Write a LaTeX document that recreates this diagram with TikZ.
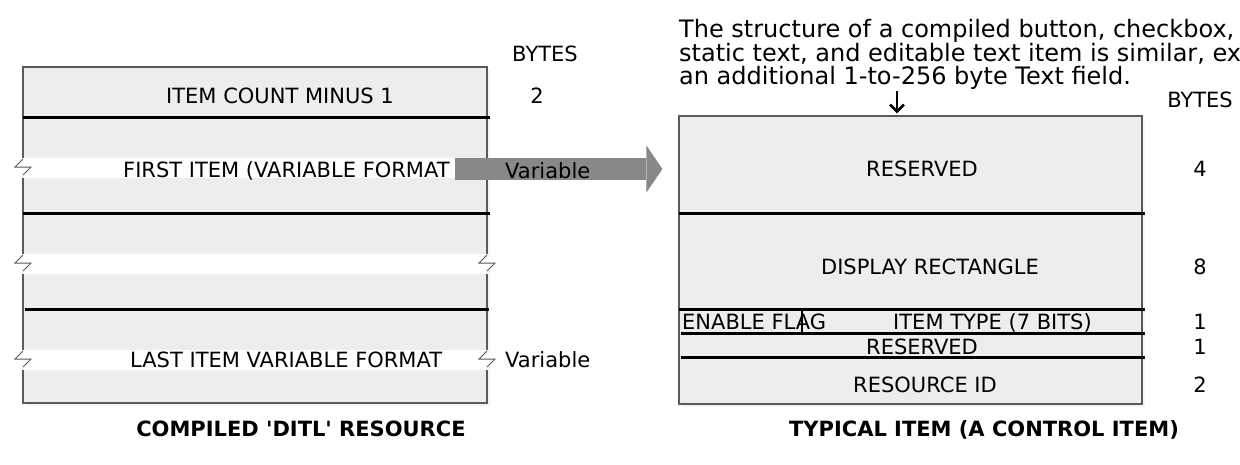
\documentclass[tikz,border=0pt]{standalone}
\usepackage{fontspec}
\setmainfont{DejaVu Sans}
\usetikzlibrary{positioning,arrows.meta}
\definecolor{boxgray}{HTML}{EDEDED}
\definecolor{edgegray}{HTML}{5A5A5A}
\definecolor{arrgray}{HTML}{888888}
\definecolor{shadegray}{HTML}{F4F4F4}
\tikzset{recbox/.style={draw=edgegray, line width=1.2pt, fill=boxgray, inner sep=0pt}}
\tikzset{sepline/.style={draw, line width=3pt}}
\tikzset{band/.style={fill=white}}
\tikzset{brk/.style={draw=edgegray, line width=1pt, line join=miter}}
\tikzset{lbl/.style={inner sep=0pt, anchor=base, font=\fontsize{21pt}{25pt}\selectfont}}
\tikzset{lblw/.style={lbl, anchor=base west}}
\tikzset{caption/.style={lbl, font=\fontsize{21pt}{25pt}\selectfont\bfseries}}
\tikzset{note/.style={lblw, font=\fontsize{24pt}{24pt}\selectfont}}
\tikzset{bigarr/.style={draw=arrgray, line width=22pt, -{Triangle[width=47pt,length=16pt,line width=0pt]}}}
\tikzset{downarr/.style={draw, line width=2.6pt, -{Straight Barb[length=7pt,width=14pt]}}}
\newcommand\brkmark[2]{\draw[brk] (#1,#2+1) -- (#1-8,#2+9) -- (#1+8,#2+9) -- (#1,#2+17);}
\begin{document}
\begin{tikzpicture}[x=1pt, y=-1pt]
\useasboundingbox (0,0) rectangle (1240,464);
% shadows
\fill[shadegray] (26,70) rectangle (490,406);
\fill[shadegray] (682,119) rectangle (1145,407);
% the two records
\node[recbox, minimum width=464pt, minimum height=336pt] (ditl) at (255,235) {};
\node[recbox, minimum width=463pt, minimum height=288pt] (item) at (910.5,260) {};

\foreach \y in {117,213} \draw[sepline] (23,\y) -- (490,\y);
\draw[sepline] (25,309) -- (489,309);
\foreach \y in {213,309} \draw[sepline] (679,\y) -- (1145,\y);
\foreach \y in {333,357} \draw[sepline] (681,\y) -- (1145,\y);

% break marks
\fill[band] (21,158) rectangle (455,178);
\fill[band] (21,254) rectangle (489,274);
\fill[band] (21,350) rectangle (489,370);
\brkmark{23}{158} \brkmark{23}{254} \brkmark{487}{254}
\brkmark{23}{350} \brkmark{487}{350}

\node[lbl] (bytesl) at (545,61) {BYTES};
\node[lbl] (countrow) at (280,103) {ITEM COUNT MINUS 1};
\node[lbl] (countsz) at (537,103) {2};
\node[lblw] (firstrow) at (123,177.5) {FIRST ITEM (VARIABLE FORMAT};
\node[lblw] (lastrow) at (130,367) {LAST ITEM VARIABLE FORMAT};
\node[lblw] (lastsz) at (505,367) {Variable};

\coordinate (firstend) at (455,169);
\draw[bigarr, shorten >=16pt] (firstend) -- (item.west |- firstend);
\node[lblw] (firstsz) at (505,178) {Variable};

% typical item
\begin{scope}
\clip (0,0) rectangle (1240,464);
\node[note] (note1) at (679,37) {The structure of a compiled button, checkbox,};
\node[note] (note2) at (679,61) {static text, and editable text item is similar, except};
\node[note] (note3) at (679,84) {an additional 1-to-256 byte Text field.};
\end{scope}
\coordinate (notefoot) at (897,91);
\draw[downarr, shorten >=2pt] (notefoot) -- (notefoot |- item.north);

\node[lbl] (bytesr) at (1200,107) {BYTES};
\node[lbl] (resv1) at (922,176) {RESERVED};
\node[lbl] (resv1sz) at (1200,176) {4};
\node[lbl] (disprect) at (930,274) {DISPLAY RECTANGLE};
\node[lbl] (disprectsz) at (1200,274) {8};
\node[lblw] (enflag) at (682,329) {ENABLE FLAG};
\node[lblw] (itemtype) at (893,329) {ITEM TYPE (7 BITS)};
\node[lbl] (itemtypesz) at (1200,329) {1};
\draw[line width=2pt] (802,309) -- (802,333);
\node[lbl] (resv2) at (922,354) {RESERVED};
\node[lbl] (resv2sz) at (1200,354) {1};
\node[lbl] (resid) at (925,392) {RESOURCE ID};
\node[lbl] (residsz) at (1200,392) {2};

\node[caption] (ditlcap) at (301,436) {COMPILED \textquotesingle DITL\textquotesingle{} RESOURCE};
\node[caption] (itemcap) at (984,436) {TYPICAL ITEM (A CONTROL ITEM)};
\end{tikzpicture}
\end{document}
